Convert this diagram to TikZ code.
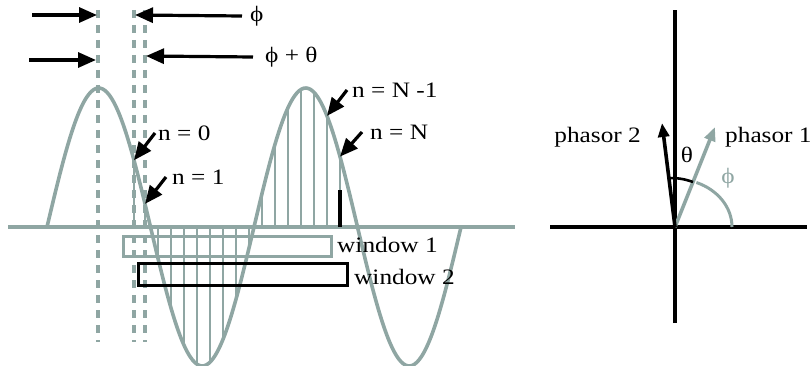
\documentclass[tikz,border=0pt]{standalone}
\usepackage{fontspec}
\setmainfont{Liberation Serif}[FakeStretch=1.15]
\usetikzlibrary{arrows.meta, positioning}
\definecolor{wavegray}{HTML}{8FA6A3}
\tikzset{every node/.style={font=\fontsize{22}{26}\selectfont, inner sep=0pt}}

\begin{document}
\begin{tikzpicture}[x=1pt, y=1pt,
    ptr/.style={black, line width=3.2pt, -{Triangle[length=18pt, width=15pt]}},
    phasor/.style={line width=3.6pt, -{Triangle[length=14pt, width=11pt]}},
    sample/.style={wavegray, line width=2.6pt},
    marker/.style={wavegray, line width=4pt, dash pattern=on 8pt off 7pt}]
    \useasboundingbox (0,0) rectangle (812,365);
    % signal and its samples (period 207, 360/207 = 1.73913)
    \draw[wavegray, line width=3.2pt] (8,138) -- (515,138);
    \draw[wavegray, line width=3.6pt, domain=47:461, samples=180, smooth]
      plot (\x, {138+139*sin(1.73913*(\x-47))});
    \foreach \x [count=\n from 0] in {134,145,158,...,340}
      \draw[sample] (\x,138) -- (\x,{138+139*sin(1.73913*(\x-47))}) coordinate (s\n);
    \draw[black, line width=3.6pt] (340,138) -- (340,175);
    % phase markers
    \foreach \d/\nm in {98/mk0, 134/mk1, 145/mk2}
      \draw[marker] (\d,355) -- (\d,23) coordinate (\nm);
    \node[anchor=west] (phi) at (250,349) {ϕ};
    \node[anchor=west] (phitheta) at (265,308) {ϕ + θ};
    \coordinate (tailA) at (32,350);
    \coordinate (tailB) at (29,305);
    \draw[ptr] (tailA) -- (97,350);
    \draw[ptr] ([xshift=-8pt]phi.west) -- (135,350);
    \draw[ptr] (tailB) -- (96,305);
    \draw[ptr] ([xshift=-12pt]phitheta.west) -- (146,309);
    % sample labels
    \node[anchor=west] (n0) at (158,232) {n = 0};
    \draw[ptr] ([xshift=-3pt]n0.west) -- (s0);
    \node[anchor=west] (n1) at (172,188) {n = 1};
    \draw[ptr] ([xshift=-6pt]n1.west) -- (s1);
    \node[anchor=west] (nNm) at (352,275) {n = N -1};
    \draw[ptr] ([xshift=-5pt]nNm.west) -- (s15);
    \node[anchor=west] (nN) at (370,233) {n = N};
    \draw[ptr] ([xshift=-8pt]nN.west) -- (s16);
    % windows
    \draw[wavegray, line width=3pt] (123,109) rectangle (331,129);
    \node[anchor=west] (win1) at (337,120) {window 1};
    \draw[black, line width=3pt] (138,80) rectangle (347,102);
    \node[anchor=west] (win2) at (354,88) {window 2};
    % phasor diagram
    \coordinate (O) at (675,138);
    \draw[line width=3.6pt] (550,138) -- (807,138);
    \draw[line width=3.6pt] (675,42) -- (675,355);
    \draw[phasor, wavegray] (O) -- (715,238) coordinate (p1);
    \draw[phasor, black] (O) -- (662,242) coordinate (p2);
    \path (O) -- (p2) coordinate[pos=0.47] (t2);
    \path (O) -- (p1) coordinate[pos=0.45] (t1);
    \draw[line width=2.6pt] (t2) to[bend left=10] (t1);
    \draw[wavegray, line width=3pt] (732,138) arc[start angle=0, end angle=68, x radius=57, y radius=48];
    \node (theta) at (687,210) {θ};
    \node[wavegray] (phiarc) at (728,187) {ϕ};
    \node[anchor=east] (ph2) at (641,228) {phasor 2};
    \node[anchor=west] (ph1) at (725,228) {phasor 1};
\end{tikzpicture}
\end{document}
